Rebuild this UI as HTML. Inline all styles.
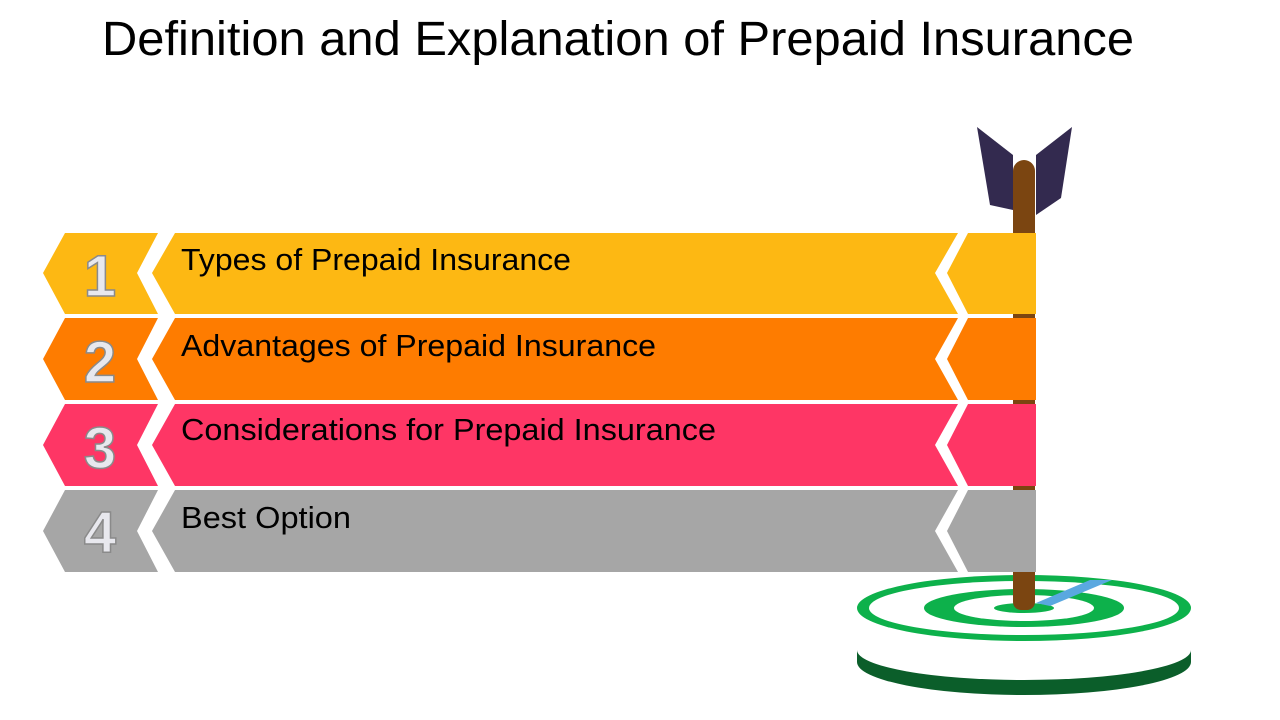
<!DOCTYPE html>
<html><head><meta charset="utf-8"><style>
html,body{margin:0;padding:0;background:#fff;}
svg{display:block}
</style></head><body>
<svg width="1280" height="720" viewBox="0 0 1280 720" xmlns="http://www.w3.org/2000/svg">
<rect width="1280" height="720" fill="#fff"/>
<text x="102" y="55" font-family="Liberation Sans, sans-serif" font-size="48" fill="#000" textLength="1032" lengthAdjust="spacingAndGlyphs">Definition and Explanation of Prepaid Insurance</text>

<rect x="1013" y="160" width="22" height="450" rx="11" fill="#7b4511"/>
<polygon points="977,127 1013,155 1013,210 990,205" fill="#332a4f"/>
<polygon points="1072,127 1036,155 1036,215 1061,198" fill="#332a4f"/>

<!-- target base -->
<path d="M857,612 L857,662 A167,33 0 0 0 1191,662 L1191,612 Z" fill="#0b5e2a"/>
<path d="M857,612 L857,650 A167,30 0 0 0 1191,650 L1191,612 Z" fill="#fff"/>
<ellipse cx="1024" cy="608" rx="167" ry="33" fill="#0db14b"/>
<ellipse cx="1024" cy="608" rx="155" ry="27" fill="#fff"/>
<ellipse cx="1024" cy="608" rx="100" ry="19" fill="#0db14b"/>
<ellipse cx="1024" cy="608" rx="70" ry="13" fill="#fff"/>
<ellipse cx="1024" cy="608" rx="30" ry="5" fill="#0db14b"/>
<polygon points="1036,603 1090,580 1112,580 1050,606" fill="#5aa8e0"/>
<rect x="1013" y="575" width="22" height="35" rx="8" fill="#7b4511"/>

<g font-family="Liberation Sans, sans-serif">
<g>
<polygon points="65,233 158,233 137,273 158,314 65,314 43,273" fill="#fdb813"/>
<polygon points="175,233 958,233 935,273 958,314 175,314 152,273" fill="#fdb813"/>
<polygon points="968,233 1036,233 1036,314 968,314 947,273" fill="#fdb813"/>
<text x="100" y="296" font-size="58" font-weight="bold" fill="#e8e8ee" stroke="#8a8a8a" stroke-width="1.5" text-anchor="middle">1</text>
<text x="181" y="270" font-size="31" fill="#000" textLength="390" lengthAdjust="spacingAndGlyphs">Types of Prepaid Insurance</text>
</g>
<g>
<polygon points="65,318 158,318 137,359 158,400 65,400 43,359" fill="#fe7c00"/>
<polygon points="175,318 958,318 935,359 958,400 175,400 152,359" fill="#fe7c00"/>
<polygon points="968,318 1036,318 1036,400 968,400 947,359" fill="#fe7c00"/>
<text x="100" y="382" font-size="58" font-weight="bold" fill="#e8e8ee" stroke="#8a8a8a" stroke-width="1.5" text-anchor="middle">2</text>
<text x="181" y="356" font-size="31" fill="#000" textLength="475" lengthAdjust="spacingAndGlyphs">Advantages of Prepaid Insurance</text>
</g>
<g>
<polygon points="65,404 158,404 137,445 158,486 65,486 43,445" fill="#fe3665"/>
<polygon points="175,404 958,404 935,445 958,486 175,486 152,445" fill="#fe3665"/>
<polygon points="968,404 1036,404 1036,486 968,486 947,445" fill="#fe3665"/>
<text x="100" y="468" font-size="58" font-weight="bold" fill="#e8e8ee" stroke="#8a8a8a" stroke-width="1.5" text-anchor="middle">3</text>
<text x="181" y="440" font-size="31" fill="#000" textLength="535" lengthAdjust="spacingAndGlyphs">Considerations for Prepaid Insurance</text>
</g>
<g>
<polygon points="65,490 158,490 137,531 158,572 65,572 43,531" fill="#a6a6a6"/>
<polygon points="175,490 958,490 935,531 958,572 175,572 152,531" fill="#a6a6a6"/>
<polygon points="968,490 1036,490 1036,572 968,572 947,531" fill="#a6a6a6"/>
<text x="100" y="552" font-size="58" font-weight="bold" fill="#e8e8ee" stroke="#8a8a8a" stroke-width="1.5" text-anchor="middle">4</text>
<text x="181" y="528" font-size="31" fill="#000" textLength="170" lengthAdjust="spacingAndGlyphs">Best Option</text>
</g>
</g>
<rect x="1013" y="314" width="22" height="4" fill="#7b4511"/>
<rect x="1013" y="400" width="22" height="4" fill="#7b4511"/>
<rect x="1013" y="486" width="22" height="4" fill="#7b4511"/>
<rect x="1013" y="572" width="22" height="30" fill="#7b4511"/>
</svg>
</body></html>
